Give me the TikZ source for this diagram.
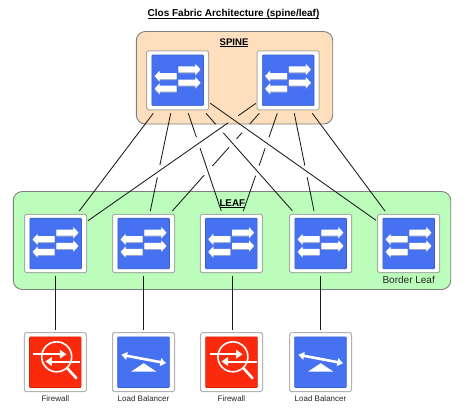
\documentclass[tikz,border=0pt]{standalone}
\usepackage{fontspec}
\setmainfont{Liberation Sans}
\usetikzlibrary{calc}
\definecolor{spinefill}{HTML}{FDDFBD}
\definecolor{leaffill}{HTML}{BCFDBC}
\definecolor{groupline}{HTML}{7F7F7F}
\definecolor{faceblue}{HTML}{4672F2}
\definecolor{faceedge}{HTML}{3A5FC8}
\definecolor{facered}{HTML}{FB2A0C}
\definecolor{iconshade}{HTML}{9AA6C8}
\newcommand{\hollowarrow}[4]{% x-tail, x-tip, y, colour
  \pgfmathsetmacro{\hx}{#2+((#2>#1)?-5:5)}
  \fill[#4] (#1,#3-3) -- (\hx,#3-3) -- (\hx,#3-5.4) -- (#2,#3) -- (\hx,#3+5.4) -- (\hx,#3+3) -- (#1,#3+3) -- cycle;
}
\newcommand{\ulabel}[1]{\underline{\smash{#1}}}
\tikzset{
  x=1pt, y=-1pt,
  spinegroup/.style={draw=groupline, line width=0.9pt, rounded corners=9pt, fill=spinefill},
  leafgroup/.style={draw=groupline, line width=0.9pt, rounded corners=9pt, fill=leaffill},
  device/.style={draw=black!55, draw opacity=0.55, line width=1pt, fill=white, rounded corners=1.5pt, minimum width=62pt, minimum height=59pt, inner sep=0pt, outer sep=0pt},
  blueface/.style={draw=faceedge, line width=0.6pt, fill=faceblue, rounded corners=0.8pt, minimum width=51.6pt, minimum height=50.6pt, inner sep=0pt},
  redface/.style={blueface, draw=facered!85!black, fill=facered},
  link/.style={draw=black!90, line width=0.85pt},
  caption/.style={font=\fontsize{8}{9.5}\selectfont, text=black!85, inner sep=0pt},
  heading/.style={font=\bfseries\fontsize{#1}{11}\selectfont, text=black, inner sep=0pt, anchor=base},
  switchicon/.pic={
    \hollowarrow{0.7}{22.7}{-10}{iconshade}
    \hollowarrow{0.7}{22.7}{3.3}{iconshade}
    \hollowarrow{-1}{-23}{-3.3}{iconshade}
    \hollowarrow{-1}{-23}{9.3}{iconshade}
    \hollowarrow{0.7}{22.7}{-11}{white}
    \hollowarrow{0.7}{22.7}{2.3}{white}
    \hollowarrow{-1}{-23}{-4.3}{white}
    \hollowarrow{-1}{-23}{8.3}{white}
  },
  firewallicon/.pic={
    \draw[white, line width=1.6pt] (1.4,-5.4) circle[radius=15];
    \draw[white, line width=2pt] (-22,-8) -- (6,-8);
    \fill[white] (4.5,-12.5) -- (11,-8) -- (4.5,-3.5) -- cycle;
    \draw[white, line width=2pt] (25,-0.7) -- (-5,-0.7);
    \fill[white] (-3.5,-5.2) -- (-10,-0.7) -- (-3.5,3.8) -- cycle;
    \draw[white, line width=2.6pt, line cap=round] (12,6) -- (21,16);
  },
  balancericon/.pic={
    \draw[white, line width=2.6pt] (-17,-6.45) -- (17.5,0.05);
    \fill[white] (-22,-7.4) -- (-15.7,-10.3) -- (-17.3,-2.35) -- cycle;
    \fill[white] (22.5,1) -- (17.8,-4) -- (16.2,3.9) -- cycle;
    \fill[white] (0.3,1) -- (13,9.5) -- (-12.5,9.5) -- cycle;
  },
}
\begin{document}
\begin{tikzpicture}
\useasboundingbox (0,0) rectangle (466,418);
\node[heading=10] (title) at (233.5,16.3) {\ulabel{Clos Fabric Architecture (spine/leaf)}};
\path[spinegroup] (136.3,31.5) rectangle (332.7,124);
\path[leafgroup] (13.3,191.5) rectangle (450.7,289.5);
\node[heading=9.6] (spinelabel) at (234,45) {\ulabel{SPINE}};
% spine switches
\foreach \n/\x in {s1/177.7,s2/288.2}{
  \node[device] (\n) at (\x,80.3) {};
  \node[blueface] (\n f) at (\n.center) {};
  \pic at (\n.center) {switchicon};
}
% leaf switches
\foreach \n/\x in {l1/55.7,l2/143.7,l3/231.3,l4/320.7,l5/408.7}{
  \node[device, minimum height=58.4pt] (\n) at (\x,243.5) {};
  \node[blueface] (\n f) at (\n.center) {};
  \pic at (\n.center) {switchicon};
}
% bottom appliances
\node[device] (fw1) at (55.3,362.2) {};
\node[redface] (fw1f) at (fw1.center) {};
\pic at (fw1.center) {firewallicon};
\node[device] (lb1) at (143.5,362.2) {};
\node[blueface] (lb1f) at (lb1.center) {};
\pic at (lb1.center) {balancericon};
\node[device] (fw2) at (231.5,362.2) {};
\node[redface] (fw2f) at (fw2.center) {};
\pic at (fw2.center) {firewallicon};
\node[device] (lb2) at (320.5,362.2) {};
\node[blueface] (lb2f) at (lb2.center) {};
\pic at (lb2.center) {balancericon};
% ports
\foreach \n/\dx/\dy in {s1a/-24.4/33,s1b/-7/33,s1c/10.6/33,s1d/28.3/33,s1e/32.6/23}
  \coordinate (\n) at ($(s1.center)+(\dx,\dy)$);
\foreach \n/\dx/\dy in {s2a/-32.2/23,s2b/-28.9/33,s2c/-10.9/33,s2d/6.1/33,s2e/24.1/33}
  \coordinate (\n) at ($(s2.center)+(\dx,\dy)$);
\coordinate (l1a) at ($(l1.center)+(23.6,-32.5)$);
\coordinate (l1b) at ($(l1.center)+(32.3,-22.8)$);
\coordinate (l2a) at ($(l2.center)+(6.6,-32.5)$);
\coordinate (l2b) at ($(l2.center)+(28.6,-32.5)$);
\coordinate (l3a) at ($(l3.center)+(-10,-32.5)$);
\coordinate (l3b) at ($(l3.center)+(12,-32.5)$);
\coordinate (l4a) at ($(l4.center)+(-28.4,-32.8)$);
\coordinate (l4b) at ($(l4.center)+(-6.7,-32.5)$);
\coordinate (l5a) at ($(l5.center)+(-32.7,-23.2)$);
\coordinate (l5b) at ($(l5.center)+(-23.7,-32.5)$);
% spine-leaf links
\draw[link] (s1a) -- (l1a);
\draw[link, dash pattern=on 52.8pt off 12.6pt on 200pt] (s1b) -- (l2a);
\draw[link, dash pattern=on 25.3pt off 11.6pt on 200pt] (s1c) -- (l3a);
\draw[link, dash pattern=on 14.6pt off 11.4pt on 200pt] (s1d) -- (l4a);
\draw[link] (s1e) -- (l5a);
\draw[link, dash pattern=on 21.6pt off 12.2pt on 300pt] (s2a) -- (l1b);
\draw[link, dash pattern=on 14.3pt off 11.6pt on 8.4pt off 11.1pt on 25.4pt off 12pt on 200pt] (s2b) -- (l2b);
\draw[link, dash pattern=on 25.4pt off 11.6pt on 18.3pt off 10.9pt on 200pt] (s2c) -- (l3b);
\draw[link, dash pattern=on 53.3pt off 11.9pt on 200pt] (s2d) -- (l4b);
\draw[link] (s2e) -- (l5b);
% leaf-appliance links
\coordinate (l3s) at ($(l3.center)+(1.2,32.6)$);
\coordinate (fw2n) at ($(fw2.center)+(1,-32.2)$);
\draw[link, line width=1pt, shorten <=3.3pt, shorten >=2.7pt] (l1.south) -- (fw1.north -| l1.south);
\draw[link, line width=1pt, shorten <=3.3pt, shorten >=2.7pt] (l2.south) -- (lb1.north -| l2.south);
\draw[link, line width=1pt] (l3s) -- (fw2n);
\draw[link, line width=1pt, shorten <=3.3pt, shorten >=2.7pt] (l4.south) -- (lb2.north -| l4.south);
% labels
\node[heading=9.8] (leaflabel) at (232.3,206) {\ulabel{LEAF}};
\node[caption, font=\fontsize{10}{12}\selectfont] (bl) at (408.7,279.7) {Border Leaf};
\node[caption] (c1) at (55.3,398.7) {Firewall};
\node[caption] (c2) at (143.5,398.7) {Load Balancer};
\node[caption] (c3) at (231.5,398.7) {Firewall};
\node[caption] (c4) at (320.5,398.7) {Load Balancer};
\end{tikzpicture}
\end{document}
